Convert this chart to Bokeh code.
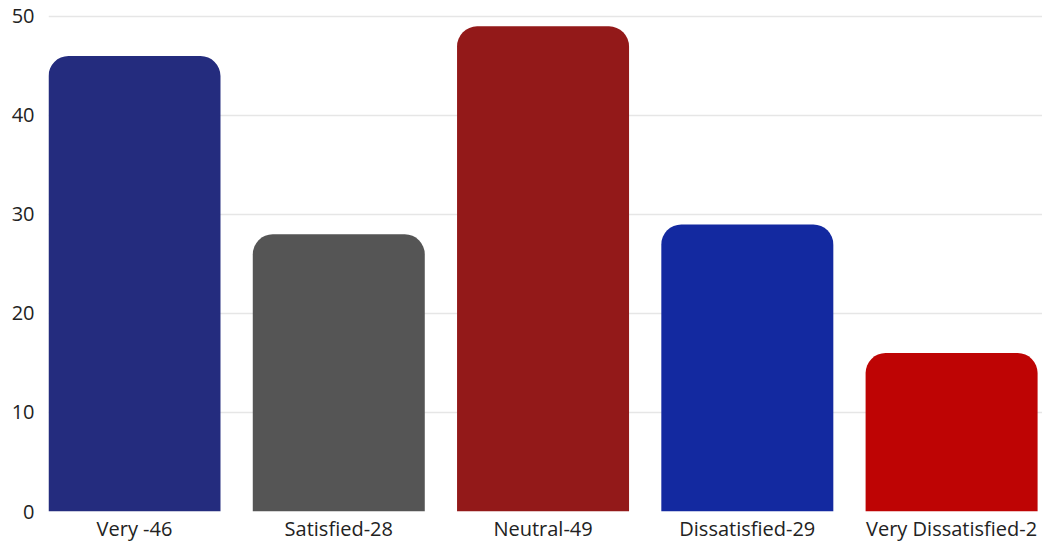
from bokeh.plotting import figure
from bokeh.models import ColumnDataSource, Range1d, FixedTicker
from bokeh.embed import file_html
from bokeh.resources import INLINE

categories = ["Very -46", "Satisfied-28", "Neutral-49", "Dissatisfied-29", "Very Dissatisfied-2"]
values = [46, 28, 49, 29, 16]
colors = ["#242C7E", "#555555", "#931919", "#1329A0", "#BE0404"]
y_ticks = [0, 10, 20, 30, 40, 50]

xs = list(range(len(categories)))
src = ColumnDataSource(dict(x=xs, top=values, color=colors))

FONT = "Open Sans"

p = figure(width=1042, height=544, output_backend="svg", toolbar_location=None,
           x_range=Range1d(-0.421, 4.445), y_range=Range1d(0, 50.3),
           min_border_left=48, min_border_right=0, min_border_top=13, min_border_bottom=30)
p.outline_line_color = None
p.background_fill_color = "white"
p.border_fill_color = "white"

p.vbar(x="x", top="top", bottom=0, width=0.842, source=src, fill_color="color",
       line_color=None, border_radius=(20, 20, 0, 0))

p.xaxis.ticker = FixedTicker(ticks=xs)
p.xaxis.major_label_overrides = {i: c for i, c in zip(xs, categories)}
p.yaxis.ticker = FixedTicker(ticks=y_ticks)

for ax in (p.xaxis, p.yaxis):
    ax.axis_line_color = None
    ax.major_tick_line_color = None
    ax.minor_tick_line_color = None
    ax.major_tick_out = 0
    ax.major_tick_in = 0
    ax.major_label_text_font = FONT
    ax.major_label_text_font_size = "20px"
    ax.major_label_text_color = "#222222"
p.yaxis.major_label_standoff = 14
p.xaxis.major_label_standoff = 3

p.xgrid.grid_line_color = None
p.ygrid.grid_line_color = "#e6e6e6"
p.ygrid.grid_line_width = 1.5

open("out.html", "w").write(file_html(p, INLINE))
